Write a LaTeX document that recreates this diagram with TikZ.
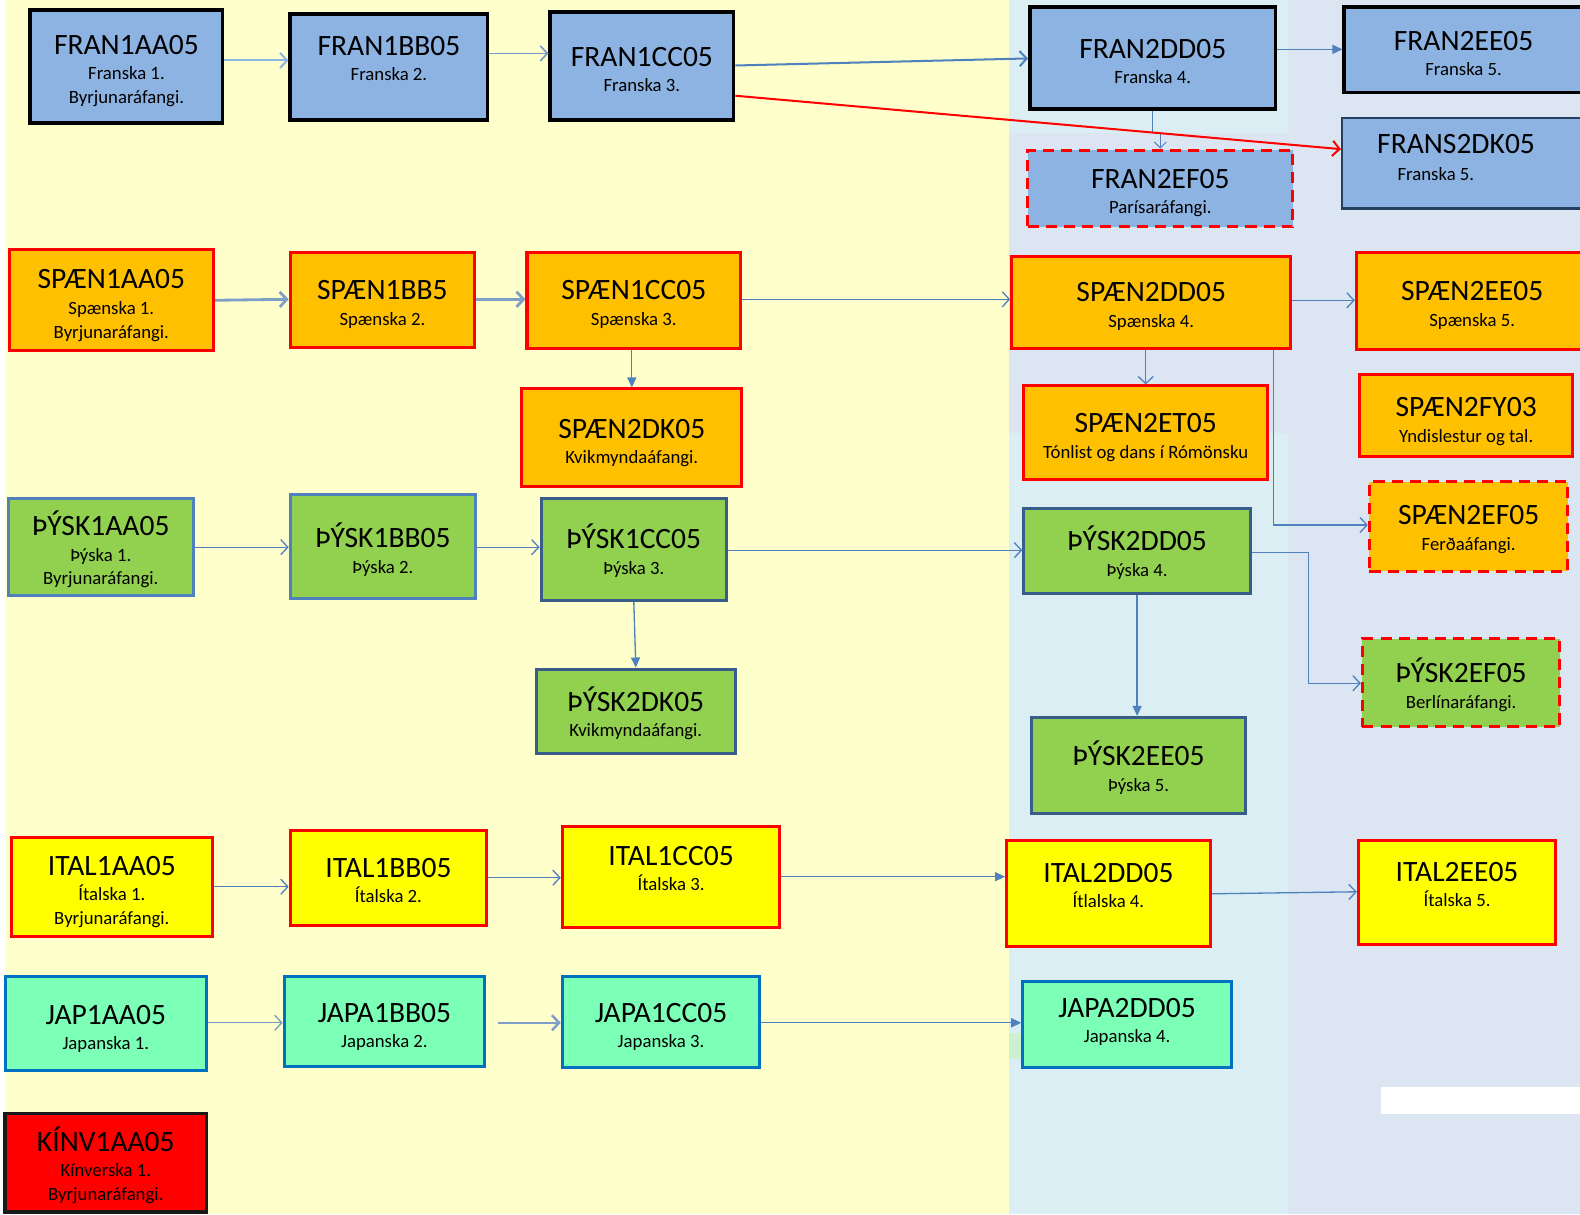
\documentclass[tikz,border=0pt]{standalone}
\usepackage{fontspec}
\setmainfont{Carlito}
\usetikzlibrary{arrows.meta,calc}
\definecolor{bgyel}{HTML}{FFFFCC}
\definecolor{bgblue}{HTML}{DAEEF3}
\definecolor{bggrey}{HTML}{DCE6F2}
\definecolor{bggreen}{HTML}{CDEFD2}
\definecolor{frfill}{HTML}{8DB3E2}
\definecolor{spfill}{HTML}{FFC000}
\definecolor{defill}{HTML}{92D050}
\definecolor{itfill}{HTML}{FFFF00}
\definecolor{jafill}{HTML}{7CFFB6}
\definecolor{kifill}{HTML}{FF0000}
\definecolor{debord}{HTML}{4F81BD}
\definecolor{dedark}{HTML}{385D8A}
\definecolor{navy}{HTML}{243F60}
\definecolor{jabord}{HTML}{0070C0}
\definecolor{conn}{HTML}{4F81BD}
\definecolor{connlight}{HTML}{8EB4E3}
\definecolor{conngrey}{HTML}{7F9FC8}
\tikzset{
  box/.style={rectangle, inner sep=0pt, line width=3pt},
  frbox/.style={box, fill=frfill, draw=black, line width=3.5pt},
  frdk/.style={box, fill=frfill, draw=navy, line width=2.5pt},
  dashbox/.style={box, draw=red, line width=3pt, dash pattern=on 11pt off 7pt},
  frdash/.style={dashbox, fill=frfill},
  spdash/.style={dashbox, fill=spfill},
  dedash/.style={dashbox, fill=defill},
  spbox/.style={box, fill=spfill, draw=red},
  debox/.style={box, fill=defill, draw=debord},
  dedbox/.style={box, fill=defill, draw=dedark},
  itbox/.style={box, fill=itfill, draw=red},
  jabox/.style={box, fill=jafill, draw=jabord},
  kibox/.style={box, fill=kifill, draw=black!90, line width=3.5pt},
  ttl/.style={anchor=base, inner sep=0pt, font=\fontsize{29.3}{31}\selectfont},
  sub/.style={anchor=base, inner sep=0pt, align=center, font=\fontsize{18.6}{23.5}\selectfont},
  op/.style={draw=conn, line width=1.3pt, -{Straight Barb[length=7pt,width=15pt]}},
  fl/.style={draw=conn, line width=1.3pt, -{Triangle[length=10pt,width=9pt]}},
}
% box with one line under the title
\newcommand\crs[9]{%
  \node[#2, minimum width={#5-#3}, minimum height={#6-#4}] (#1) at ({(#3+#5)/2},{(#4+#6)/2}) {};
  \node[ttl] (#1-t) at ({(#3+#5)/2},{#8+9.7}) {#7};
  \node[sub] (#1-s) at ({(#3+#5)/2},{#8+35}) {#9};
}
% box with two lines under the title (base anchor = last line)
\newcommand\crstwo[9]{%
  \node[#2, minimum width={#5-#3}, minimum height={#6-#4}] (#1) at ({(#3+#5)/2},{(#4+#6)/2}) {};
  \node[ttl] (#1-t) at ({(#3+#5)/2},{#8+9.7}) {#7};
  \node[sub] (#1-s) at ({(#3+#5)/2},{#8+58.5}) {#9};
}
\begin{document}
\begin{tikzpicture}[x=1pt,y=-1pt]
\useasboundingbox (0,0) rectangle (1568,1205);
\fill[white] (0,0) rectangle (1568,1205);
\fill[bgyel] (6,0) rectangle (1001,1205);
\fill[bggrey] (1001,0) rectangle (1568,1205);
\fill[bgblue] (1001,0) rectangle (1278,132);
\fill[bgblue] (1001,430) rectangle (1278,1205);
\fill[white] (1370,1079) rectangle (1568,1106);
\fill[bggreen] (1001,1025) rectangle (1013,1051);

% French
\crstwo{fr1a}{frbox}{30}{10}{221}{122}{FRAN1AA05}{44}{Franska 1.\\Byrjunaráfangi.}
\crs{fr1b}{frbox}{288}{14}{484}{119}{FRAN1BB05}{45}{Franska 2.}
\crs{fr1c}{frbox}{546}{12}{728}{119}{FRAN1CC05}{56}{Franska 3.}
\crs{fr2d}{frbox}{1022}{7}{1266}{108}{FRAN2DD05}{48}{Franska 4.}
\crs{fr2e}{frbox}{1334}{7}{1571}{92}{FRAN2EE05}{40}{Franska 5.}
\crs{fr2f}{frdash}{1020}{149}{1283}{225}{FRAN2EF05}{177}{Parísaráfangi.}
\node[frdk, minimum width=243, minimum height=90] (fr2k) at (1453.5,162) {};
\node[ttl] (fr2k-t) at (1445,152.7) {FRANS2DK05};
\node[sub] (fr2k-s) at (1425,179) {Franska 5.};

% Spanish
\crstwo{sp1a}{spbox}{9}{248}{212}{348}{SPÆN1AA05}{277}{Spænska 1.\\Byrjunaráfangi.}
\crs{sp1b}{spbox}{288}{251}{471}{345}{SPÆN1BB5}{288}{Spænska 2.}
\crs{sp1c}{spbox}{523}{251}{735}{346}{SPÆN1CC05}{288}{Spænska 3.}
\crs{sp2k}{spbox}{518}{386}{736}{483}{SPÆN2DK05}{425}{Kvikmyndaáfangi.}
\crs{sp2d}{spbox}{1004}{255}{1281}{346}{SPÆN2DD05}{290}{Spænska 4.}
\crs{sp2e}{spbox}{1346}{251}{1576}{347}{SPÆN2EE05}{289}{Spænska 5.}
\crs{sp2t}{spbox}{1016}{383}{1258}{476}{SPÆN2ET05}{420}{Tónlist og dans í Rómönsku}
\crs{sp2y}{spbox}{1349}{372}{1561}{453}{SPÆN2FY03}{404}{Yndislestur og tal.}
\crs{sp2f}{spdash}{1359}{478}{1556}{567}{SPÆN2EF05}{511}{Ferðaáfangi.}

% German
\crstwo{de1a}{debox}{8}{495}{192}{591}{ÞÝSK1AA05}{522}{Þýska 1.\\Byrjunaráfangi.}
\crs{de1b}{debox}{288}{491}{472}{594}{ÞÝSK1BB05}{534}{Þýska 2.}
\crs{de1c}{dedbox}{537}{495}{721}{596}{ÞÝSK1CC05}{535}{Þýska 3.}
\crs{de2k}{dedbox}{532}{664}{730}{748}{ÞÝSK2DK05}{696}{Kvikmyndaáfangi.}
\crs{de2d}{dedbox}{1016}{505}{1241}{589}{ÞÝSK2DD05}{537}{Þýska 4.}
\crs{de2e}{dedbox}{1024}{712}{1236}{807}{ÞÝSK2EE05}{750}{Þýska 5.}
\crs{de2f}{dedash}{1352}{634}{1548}{721}{ÞÝSK2EF05}{668}{Berlínaráfangi.}

% Italian
\crstwo{it1a}{itbox}{11}{831}{211}{929}{ITAL1AA05}{859}{Ítalska 1.\\Byrjunaráfangi.}
\crs{it1b}{itbox}{288}{824}{483}{918}{ITAL1BB05}{861}{Ítalska 2.}
\crs{it1c}{itbox}{558}{820}{774}{920}{ITAL1CC05}{849}{Ítalska 3.}
\crs{it2d}{itbox}{999}{834}{1201}{939}{ITAL2DD05}{866}{Ítlalska 4.}
\crs{it2e}{itbox}{1348}{834}{1544}{937}{ITAL2EE05}{865}{Ítalska 5.}

% Japanese
\crs{ja1a}{jabox}{5}{969}{205}{1062}{JAP1AA05}{1007}{Japanska 1.}
\crs{ja1b}{jabox}{282}{969}{481}{1058}{JAPA1BB05}{1005}{Japanska 2.}
\crs{ja1c}{jabox}{558}{969}{754}{1059}{JAPA1CC05}{1005}{Japanska 3.}
\crs{ja2d}{jabox}{1015}{974}{1222}{1059}{JAPA2DD05}{1000}{Japanska 4.}

% Chinese
\crstwo{ki1a}{kibox}{5}{1105}{205}{1203}{KÍNV1AA05}{1133}{Kínverska 1.\\Byrjunaráfangi.}

% French connectors
\draw[op, draw=connlight, line width=2pt] (fr1a.east |- 0,60) -- (fr1b.west |- 0,60);
\draw[op, draw=conn!80, line width=1.6pt] (fr1b.east |- 0,53) -- (fr1c.west |- 0,53);
\draw[op, line width=2pt] (fr1c.east |- 0,65) -- (fr2d.west |- 0,58);
\draw[fl] (fr2d.east |- 0,49) -- (fr2e.west |- 0,49);
\draw[op, line width=1pt, -{Straight Barb[length=6pt,width=12pt]}] (fr2d.south) -- ++(0,22) -| (fr2f.north);
\draw[op, draw=red, line width=2pt] (fr1c.east |- 0,95) -- (fr2k.west |- 0,148);

% Spanish connectors
\draw[op, draw=conngrey, line width=2.8pt] (sp1a.east |- 0,298) -- (sp1b.west |- 0,297);
\draw[op, draw=conngrey, line width=2.8pt] (sp1b.east |- 0,297) -- (sp1c.west |- 0,297);
\draw[fl] (sp1c.south -| sp2k.north) -- (sp2k.north);
\draw[op] (sp1c.east |- 0,297) -- (sp2d.west |- 0,297);
\draw[op] (sp2d.east |- 0,298) -- (sp2e.west |- 0,298);
\draw[op] (sp2d.south -| sp2t.north) -- (sp2t.north);
\draw[op] ($(sp2d.south east)+(-19,0)$) |- (sp2f.west |- 0,521);

% German connectors
\draw[op] (de1a.east |- 0,543) -- (de1b.west |- 0,543);
\draw[op] (de1b.east |- 0,543) -- (de1c.west |- 0,543);
\draw[fl] (de1c.south) -- (de2k.north);
\draw[op] (de1c.east |- 0,546) -- (de2d.west |- 0,546);
\draw[fl] (de2d.south) -- (de2d.south |- de2e.north);
\draw[op] (de2d.east |- 0,548) -- ++(56,0) |- (de2f.west |- 0,678);

% Italian connectors
\draw[op] (it1a.east |- 0,880) -- (it1b.west |- 0,880);
\draw[op] (it1b.east |- 0,871) -- (it1c.west |- 0,871);
\draw[fl] (it1c.east |- 0,870) -- (it2d.west |- 0,870);
\draw[op] (it2d.east |- 0,887) -- (it2e.west |- 0,885);

% Japanese connectors
\draw[op, draw=conn!80] (ja1a.east |- 0,1015) -- (ja1b.west |- 0,1015);
\draw[op, draw=conngrey, line width=2.5pt] ($(ja1b.east |- 0,1015)+(12,0)$) -- (ja1c.west |- 0,1015);
\draw[fl] (ja1c.east |- 0,1015) -- (ja2d.west |- 0,1015);
\end{tikzpicture}
\end{document}
